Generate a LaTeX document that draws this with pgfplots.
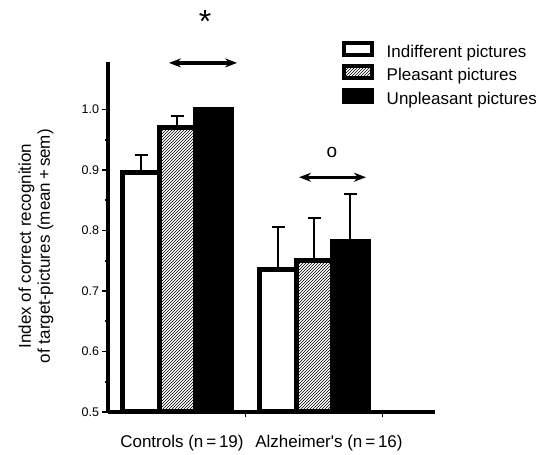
\documentclass[border=0pt]{standalone}
\usepackage{fontspec}
\setmainfont{Liberation Sans}
\usepackage{pgfplots}
\pgfplotsset{compat=1.18}
\usetikzlibrary{patterns,arrows.meta}
\begin{document}
\begin{tikzpicture}
\begin{axis}[
  at={(0pt,0pt)}, anchor=south west,
  scale only axis, width=327pt, height=350pt,
  xmin=0.496, xmax=2.883, ymin=0.5, ymax=1.0785,
  axis x line*=bottom, axis y line*=left,
  axis line style={line width=3.8pt},
  clip mode=individual,
  ytick={0.5,0.6,0.7,0.8,0.9,1.0}, minor y tick num=1,
  xtick={1.5,2.5}, xticklabels={},
  tick align=outside, major tick length=5.5pt, minor tick length=3pt,
  tick style={line width=1.8pt, black},
  /pgf/number format/assume math mode=true,
  yticklabel style={font=\fontsize{12.5}{14}\selectfont, /pgf/number format/fixed, /pgf/number format/fixed zerofill, /pgf/number format/precision=1},
  ylabel={Index of correct recognition\\of target-pictures (mean\,+\,sem)},
  ylabel style={font=\fontsize{17}{19}\selectfont, align=center, at={(axis description cs:-0.22,0.474)}, anchor=center},
  ybar, bar width=0.263, bar shift=0pt,
  error bars/y dir=plus, error bars/y explicit,
  error bars/error bar style={line width=2pt, black},
  error bars/error mark options={rotate=90, line width=2pt, mark size=6.5pt, black},
  legend style={at={(axis description cs:0.7148,1.0607)}, anchor=north west, draw=none, fill=none, inner sep=0pt, outer sep=0pt, row sep=2.5pt, font=\fontsize{17}{19}\selectfont, nodes={inner sep=1pt, text height=12.5pt, text depth=3.6pt}, /tikz/every odd column/.append style={column sep=12pt}},
  legend cell align=left,
  legend image code/.code={\draw[#1, line width=4pt] (2pt,-2pt) rectangle (30pt,10pt);},
]
\addplot[draw=black, fill=white, line width=5pt] coordinates {(0.737,0.896) +- (0,0.029) (1.737,0.735) +- (0,0.070)};
\addplot[draw=black, pattern=north east lines, line width=5pt] coordinates {(1.0,0.971) +- (0,0.019) (2.0,0.750) +- (0,0.070)};
\addplot[draw=black, fill=black, line width=5pt] coordinates {(1.263,1.000) +- (0,0.0) (2.263,0.782) +- (0,0.078)};
\legend{Indifferent pictures, Pleasant pictures, Unpleasant pictures}
\node[font=\fontsize{32}{32}\selectfont, anchor=base] at (axis cs:1.204,1.127) {*};
\node[font=\fontsize{19}{19}\selectfont, anchor=base] at (axis cs:2.131,0.92) {o};
\draw[{Stealth[length=12pt,width=9pt]}-{Stealth[length=12pt,width=9pt]}, line width=3.2pt] (axis cs:0.941,1.077) -- (axis cs:1.438,1.077);
\draw[{Stealth[length=12pt,width=9pt]}-{Stealth[length=12pt,width=9pt]}, line width=3.2pt] (axis cs:1.890,0.888) -- (axis cs:2.379,0.888);
\node[font=\fontsize{17}{19}\selectfont, anchor=base] at (axis cs:1.036,0.4405) {Controls (n\,=\,19)};
\node[font=\fontsize{17}{19}\selectfont, anchor=base] at (axis cs:2.109,0.4405) {Alzheimer\textquotesingle s (n\,=\,16)};
\end{axis}
\pgfresetboundingbox
\path (-108pt,-43pt) rectangle (431pt,412pt);
\end{tikzpicture}
\end{document}
